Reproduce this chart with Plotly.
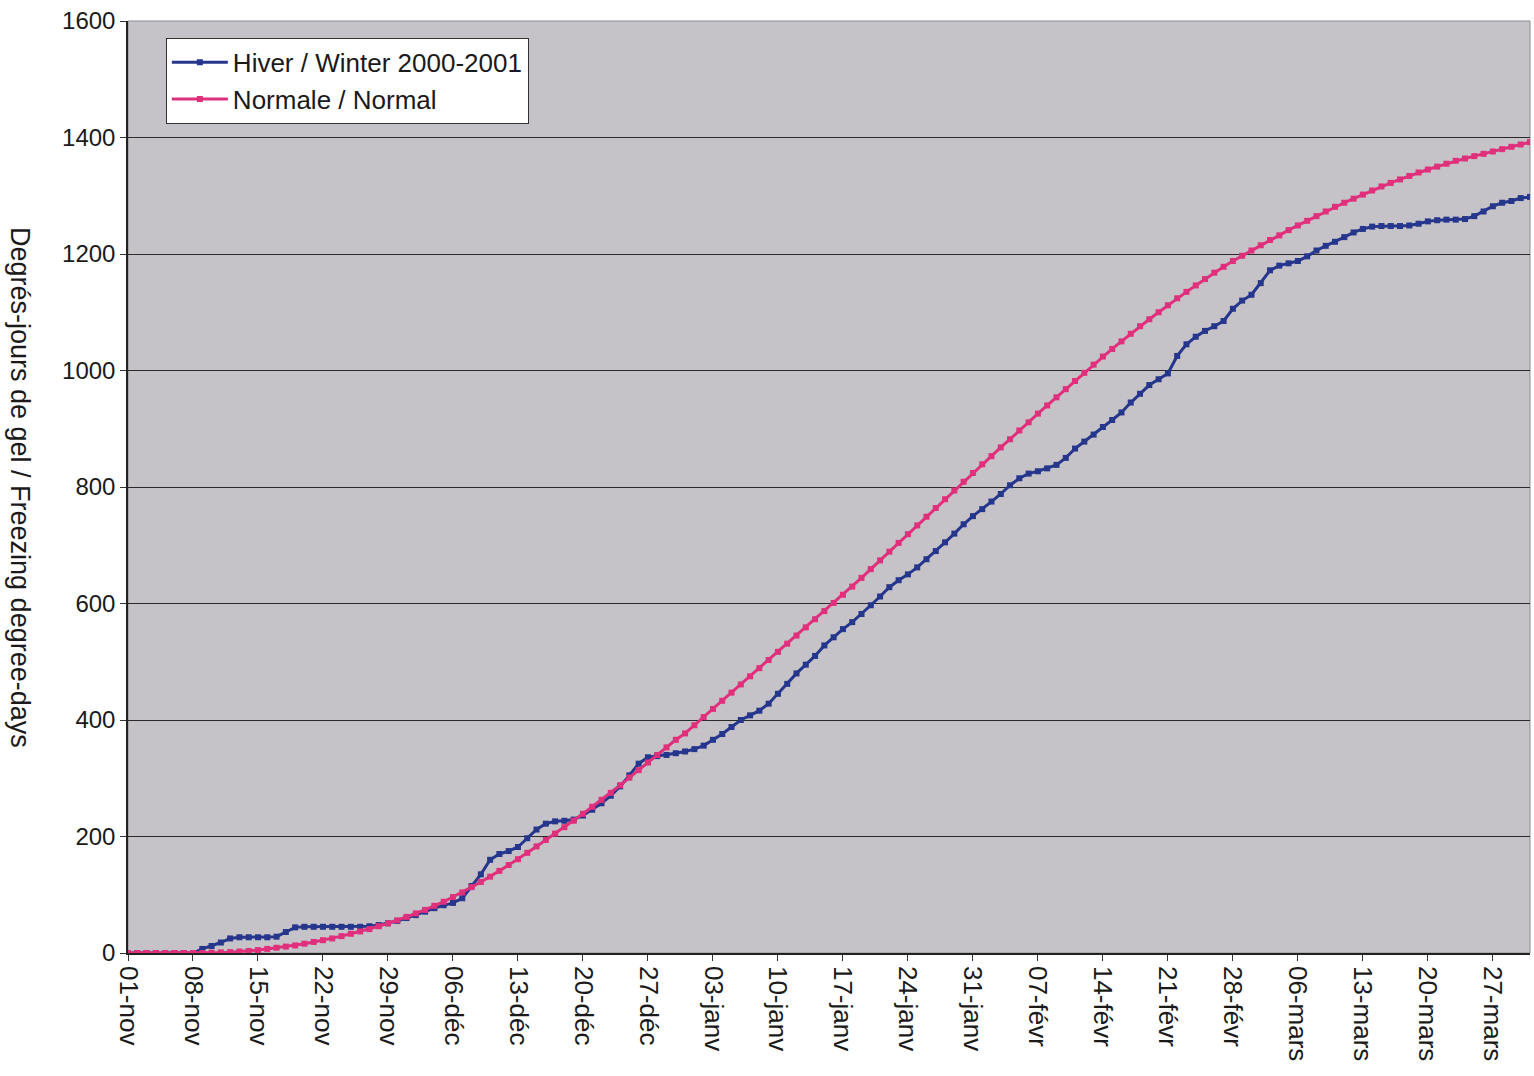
import pandas as pd
import plotly.graph_objects as go

# Daily dates of the freezing season, 1 Nov 2000 to 1 Apr 2001
dates = pd.date_range("2000-11-01", "2001-04-01", freq="D")

# Accumulated freezing degree-days, winter 2000-2001
winter = [
    0, 0, 0, 0, 0, 0, 0, 0, 7, 12, 18, 25, 27, 27, 27, 27, 28, 36, 44, 45,
    45, 45, 45, 45, 45, 45, 46, 48, 51, 55, 60, 65, 71, 77, 82, 86, 94, 115, 135, 160,
    170, 175, 182, 197, 212, 222, 226, 227, 229, 236, 246, 257, 270, 286, 305, 325, 336, 338, 340, 343,
    346, 350, 356, 366, 376, 388, 400, 408, 416, 428, 445, 462, 480, 495, 510, 528, 542, 556, 568, 582,
    597, 612, 628, 640, 650, 662, 676, 690, 705, 720, 736, 750, 762, 775, 788, 803, 815, 823, 827, 832,
    838, 850, 866, 878, 890, 903, 915, 928, 945, 960, 975, 985, 995, 1025, 1045, 1058, 1068, 1076, 1085, 1106,
    1120, 1130, 1150, 1172, 1180, 1184, 1188, 1196, 1206, 1214, 1221, 1229, 1237, 1243, 1247, 1248, 1248, 1248, 1249, 1252,
    1256, 1258, 1259, 1259, 1260, 1265, 1273, 1282, 1288, 1291, 1296, 1298,
]

# Accumulated freezing degree-days, climate normal
normal = [
    0, 0, 0, 0, 0, 0, 0, 0, 0, 0.5, 1, 1.5, 2.5, 3.5, 5, 7, 9, 11, 13, 16,
    19, 22, 25, 29, 33, 37, 41, 46, 51, 56, 62, 68, 74, 81, 88, 96, 104, 113, 122, 131,
    141, 151, 161, 172, 183, 194, 205, 216, 227, 239, 251, 263, 275, 288, 301, 314, 327, 340, 353, 366,
    377, 391, 405, 419, 433, 447, 461, 475, 489, 503, 517, 531, 545, 559, 573, 587, 601, 615, 629, 644,
    659, 674, 689, 704, 719, 734, 749, 764, 779, 794, 809, 824, 839, 853, 868, 882, 897, 911, 926, 940,
    954, 968, 982, 996, 1010, 1024, 1037, 1050, 1063, 1076, 1088, 1100, 1112, 1124, 1135, 1146, 1157, 1168, 1178, 1188,
    1197, 1206, 1215, 1224, 1232, 1241, 1249, 1257, 1265, 1273, 1281, 1288, 1295, 1302, 1309, 1316, 1322, 1328, 1334, 1340,
    1345, 1350, 1355, 1360, 1364, 1368, 1372, 1376, 1380, 1384, 1388, 1392,
]

# Weekly tick labels (French date format)
tick_labels = [
    "01-nov", "08-nov", "15-nov", "22-nov", "29-nov", "06-déc", "13-déc", "20-déc",
    "27-déc", "03-janv", "10-janv", "17-janv", "24-janv", "31-janv", "07-févr", "14-févr",
    "21-févr", "28-févr", "06-mars", "13-mars", "20-mars", "27-mars",
]
tick_dates = pd.date_range("2000-11-01", periods=len(tick_labels), freq="7D")

series_names = ["Hiver / Winter 2000-2001", "Normale / Normal"]
series_colors = ["#25368c", "#e0307c"]

FONT = "Liberation Sans, Arial, sans-serif"

fig = go.Figure()
for name, values, color, grp in zip(series_names, [winter, normal], series_colors, ["w", "n"]):
    fig.add_trace(go.Scatter(
        x=dates, y=values, name=name, mode="lines+markers",
        legendgroup=grp,
        line=dict(color=color, width=3),
        marker=dict(symbol="square", size=6, color=color),
    ))

# light plot-area frame on top and right
fig.add_shape(type="rect", xref="paper", yref="paper", x0=0, y0=0, x1=1, y1=1,
              line=dict(color="#8a8a8a", width=1), fillcolor="rgba(0,0,0,0)", layer="below")

fig.add_annotation(
    text="Degrés-jours de gel / Freezing degree-days",
    xref="paper", yref="paper", x=-0.077, y=0.5,
    xanchor="center", yanchor="middle",
    textangle=90, showarrow=False,
    font=dict(family=FONT, size=27, color="#1a1a1a"),
)

fig.update_layout(
    width=1534, height=1076,
    margin=dict(l=128, r=4, t=21, b=123),
    paper_bgcolor="white",
    plot_bgcolor="#c5c3c7",
    font=dict(family=FONT, size=24, color="#1a1a1a"),
    showlegend=True,
    legend=dict(
        x=0.027, y=0.982, xanchor="left", yanchor="top",
        bgcolor="white", bordercolor="#333333", borderwidth=1,
        font=dict(family=FONT, size=26, color="#1a1a1a"),
        itemwidth=56, tracegroupgap=0,
    ),
    xaxis=dict(
        range=[dates[0], dates[-1]],
        tickmode="array", tickvals=tick_dates, ticktext=tick_labels,
        tickangle=90, ticks="outside", ticklen=6, tickcolor="#333333",
        showgrid=False, showline=True, linecolor="#222222", linewidth=1.5,
        zeroline=False,
        tickfont=dict(family=FONT, size=26, color="#1a1a1a"),
    ),
    yaxis=dict(
        range=[0, 1600], dtick=200,
        ticks="outside", ticklen=6, tickcolor="#333333",
        showgrid=True, gridcolor="#2a2a2a", gridwidth=1,
        showline=True, linecolor="#222222", linewidth=1.5,
        zeroline=False,
        tickfont=dict(family=FONT, size=24, color="#1a1a1a"),
    ),
)

fig.write_html("out.html")
